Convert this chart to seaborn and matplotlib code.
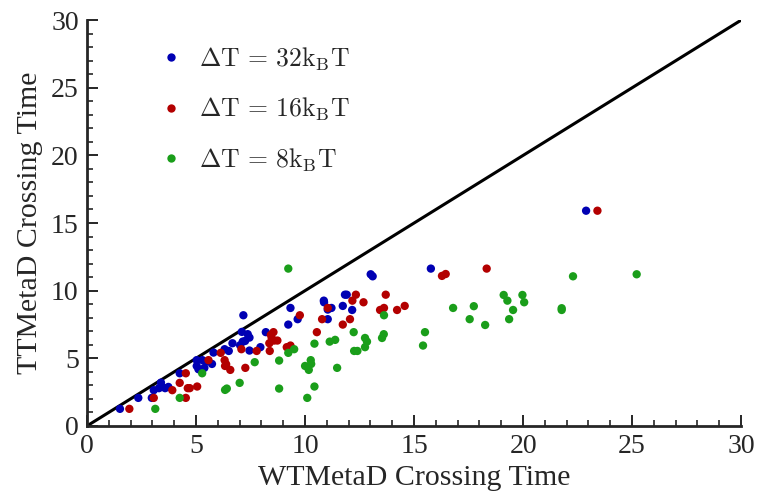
import numpy as np
import pandas as pd
import matplotlib
matplotlib.use("Agg")
import matplotlib.pyplot as plt
from matplotlib.lines import Line2D
from matplotlib.ticker import MultipleLocator
import seaborn as sns

# ---- data ----
x32 = [1.51, 2.35, 2.97, 3.06, 3.39, 3.30, 3.58, 3.73, 4.25, 5.03, 5.03, 5.11, 5.29, 5.38,
       5.46, 5.73, 5.80, 6.31, 6.50, 6.67, 7.17, 7.10, 7.37, 7.02, 7.14, 7.25, 7.45, 7.45,
       7.95, 8.20, 9.33, 9.23, 9.66, 10.86, 10.87, 11.04, 11.21, 11.04, 11.73, 11.83, 11.91,
       12.16, 13.01, 13.10, 15.77, 22.89]
y32 = [1.26, 2.07, 2.07, 2.64, 3.20, 2.79, 2.79, 2.88, 3.89, 4.86, 4.43, 4.19, 4.86, 4.29,
       4.75, 4.58, 5.42, 5.67, 5.54, 6.11, 8.18, 6.95, 6.78, 5.96, 6.23, 6.28, 6.53, 5.57,
       5.82, 6.93, 8.72, 7.49, 7.89, 9.26, 9.14, 8.60, 8.72, 7.89, 8.87, 9.70, 9.70,
       8.57, 11.21, 11.06, 11.63, 15.91]

x16 = [1.94, 3.06, 3.91, 4.25, 4.53, 4.53, 4.62, 4.71, 5.05, 5.57, 6.13, 6.31, 6.38, 6.33,
       6.57, 7.08, 7.26, 7.78, 8.38, 8.36, 8.47, 8.55, 8.58, 8.73, 8.43, 9.16, 9.33, 9.76,
       10.54, 10.78, 11.04, 11.73, 12.06, 12.17, 12.33, 12.68, 13.44, 13.62, 13.70, 14.22,
       14.57, 16.28, 16.45, 18.33, 23.41]
y16 = [1.26, 2.07, 2.64, 3.18, 3.89, 2.07, 2.79, 2.79, 2.91, 4.86, 5.40, 4.86, 4.56, 4.43,
       4.14, 5.67, 4.29, 5.54, 5.54, 6.11, 6.48, 6.93, 6.31, 6.31, 6.73, 5.82, 5.94, 8.18,
       6.93, 7.89, 8.72, 7.49, 7.89, 9.26, 9.70, 9.14, 8.57, 8.72, 9.70, 8.57,
       8.87, 11.09, 11.23, 11.63, 15.91]

x8 = [3.13, 4.25, 5.28, 6.33, 6.41, 7.00, 7.69, 8.81, 8.81, 9.23, 9.50, 9.23, 10.00, 10.10,
      10.17, 10.26, 10.28, 10.43, 10.43, 11.13, 11.38, 11.47, 12.23, 12.25, 12.40, 12.75,
      12.84, 12.75, 13.53, 13.61, 13.62, 15.41, 15.50, 16.79, 17.55, 17.74, 18.26, 19.11,
      19.28, 19.36, 19.54, 19.97, 20.05, 21.77, 21.77, 22.29, 25.21]
y8 = [1.26, 2.07, 3.89, 2.66, 2.76, 3.18, 4.71, 4.83, 2.76, 5.40, 5.67, 11.63, 4.43, 2.07,
      4.14, 4.86, 4.58, 2.91, 6.08, 6.23, 6.36, 4.29, 6.93, 5.54, 5.54, 6.50,
      6.23, 5.82, 6.50, 6.78, 8.18, 5.94, 6.93, 8.72, 7.89, 8.85, 7.46, 9.68,
      9.26, 7.89, 8.57, 9.68, 9.14, 8.70, 8.57, 11.06, 11.21]

labels = [r"$\Delta\mathrm{T}\,=\,32\mathrm{k}_{\mathrm{B}}\mathrm{T}$",
          r"$\Delta\mathrm{T}\,=\,16\mathrm{k}_{\mathrm{B}}\mathrm{T}$",
          r"$\Delta\mathrm{T}\,=\,8\mathrm{k}_{\mathrm{B}}\mathrm{T}$"]
colors = ["#0000b3", "#b30000", "#1a9e1a"]

df = pd.DataFrame({
    "x": x32 + x16 + x8,
    "y": y32 + y16 + y8,
    "set": [labels[0]] * len(x32) + [labels[1]] * len(x16) + [labels[2]] * len(x8),
})

sns.set_style("ticks")
plt.rcParams["font.family"] = ["Liberation Serif", "DejaVu Serif"]
plt.rcParams["mathtext.fontset"] = "cm"

fig = plt.figure(figsize=(7.57, 5.04), dpi=100)
ax = fig.add_axes([0.115, 0.155, 0.864, 0.805])

ax.axline((0, 0), slope=1, color="black", lw=2.2, zorder=1)
sns.scatterplot(data=df, x="x", y="y", hue="set", palette=dict(zip(labels, colors)),
                s=36, edgecolor="none", linewidth=0, ax=ax, legend=False, zorder=3)

ax.set_xlim(0, 30)
ax.set_ylim(0, 30)
ax.xaxis.set_major_locator(MultipleLocator(5))
ax.yaxis.set_major_locator(MultipleLocator(5))
ax.xaxis.set_minor_locator(MultipleLocator(1))
ax.yaxis.set_minor_locator(MultipleLocator(1))
ax.tick_params(which="major", direction="in", length=8, width=1.4, labelsize=20, pad=6)
ax.tick_params(which="minor", direction="in", length=4, width=1.2)
for s in ["top", "right"]:
    ax.spines[s].set_visible(False)
for s in ["left", "bottom"]:
    ax.spines[s].set_linewidth(2)

ax.set_xlabel("WTMetaD Crossing Time", fontsize=21.5, labelpad=4)
ax.set_ylabel("TTMetaD Crossing Time", fontsize=21.5, labelpad=6)

handles = [Line2D([], [], marker="o", linestyle="none", markersize=6,
                  markerfacecolor=c, markeredgecolor="none") for c in colors]
ax.legend(handles, labels, loc="upper left", bbox_to_anchor=(0.073, 0.995), frameon=False,
          fontsize=18.5, labelspacing=0.9, handletextpad=0.6, handlelength=1.0)

fig.savefig("out.png", dpi=100)
